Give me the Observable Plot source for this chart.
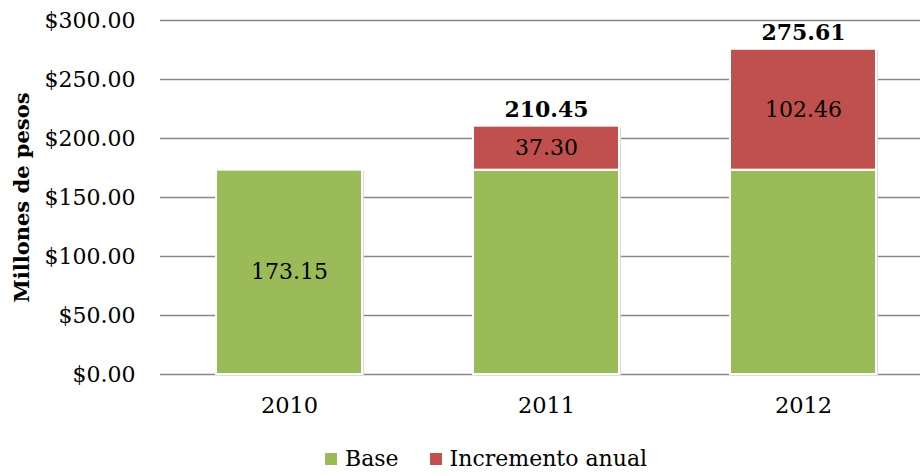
<!DOCTYPE html>
<html>
<head>
<meta charset="utf-8">
<script src="https://cdn.jsdelivr.net/npm/d3@7"></script>
<script src="https://cdn.jsdelivr.net/npm/@observablehq/plot@0.6"></script>
<style>
  body { margin: 0; background: #fff; font-family: "DejaVu Serif", serif; }
  #wrap { position: relative; width: 920px; height: 476px; overflow: hidden; }
  #legend { position: absolute; left: 325px; top: 446px; display: flex; align-items: center; font-size: 22px; color: #000; }
  .sw { display: inline-block; width: 12px; height: 12px; margin-right: 8px; }
  .item { display: flex; align-items: center; margin-right: 31px; }
</style>
</head>
<body>
<div id="wrap">
  <div id="chart"></div>
  <div id="legend"></div>
</div>
<script>
const years = ["2010", "2011", "2012"];
const base = [173.15, 173.15, 173.15];
const incremento = [0, 37.30, 102.46];
const seriesNames = ["Base", "Incremento anual"];
const seriesColors = ["#9BBB59", "#C0504D"];
const yTicks = [0, 50, 100, 150, 200, 250, 300];
const yLabel = "Millones de pesos";

const rows = [];
years.forEach((yr, i) => {
  rows.push({year: yr, series: seriesNames[0], value: base[i], inc: incremento[i]});
  rows.push({year: yr, series: seriesNames[1], value: incremento[i], inc: incremento[i]});
});
const totals = years.map((yr, i) => ({year: yr, total: base[i] + incremento[i], inc: incremento[i]}))
  .filter(d => d.inc > 0);
// segment labels shown in the reference: base only where there is no increment
const labelled = d => d.series === seriesNames[1] || d.inc === 0;
const barRows = rows.filter(d => d.value > 0);

const chart = Plot.plot({
  width: 920,
  height: 430,
  marginTop: 20,
  marginBottom: 56,
  marginLeft: 160,
  marginRight: 0,
  style: {fontFamily: "DejaVu Serif, serif", fontSize: "22px", color: "#000", background: "transparent"},
  x: {domain: years, range: [160, 932], paddingInner: 0.43, paddingOuter: 0.215, label: null},
  y: {domain: [0, 300], label: null},
  color: {domain: seriesNames, range: seriesColors},
  marks: [
    Plot.ruleY(yTicks, {stroke: "#878787", strokeWidth: 1.6}),
    Plot.barY(barRows, Plot.stackY({x: "year", y: "value", z: "series", order: seriesNames, fill: "#d9d9d9", dx: 2, dy: 1.5})),
    Plot.barY(barRows, Plot.stackY({x: "year", y: "value", z: "series", order: seriesNames, fill: "series", stroke: "#fff", strokeWidth: 2})),
    Plot.textY(barRows, Plot.stackY({x: "year", y: "value", z: "series", order: seriesNames, text: d => labelled(d) ? d.value.toFixed(2) : "", fill: "#000", fontSize: 22})),
    Plot.text(totals, {x: "year", y: "total", text: d => d.total.toFixed(2), fontWeight: "bold", fontSize: 22, lineAnchor: "bottom", dy: -9, fill: "#000"}),
    Plot.axisY({ticks: yTicks, tickFormat: d => "$" + d.toFixed(2), tickSize: 0, tickPadding: 25, label: null, fontSize: 22}),
    Plot.axisX({tickSize: 0, tickPadding: 23, label: null, fontSize: 22.5}),
    Plot.text([yLabel], {frameAnchor: "left", textAnchor: "middle", dx: -138, rotate: -90, fontWeight: "bold", fontSize: 21, fill: "#000"})
  ]
});
document.getElementById("chart").appendChild(chart);

const legend = document.getElementById("legend");
seriesNames.forEach((s, i) => {
  const item = document.createElement("div");
  item.className = "item";
  const sw = document.createElement("span");
  sw.className = "sw";
  sw.style.background = seriesColors[i];
  item.appendChild(sw);
  item.appendChild(document.createTextNode(s));
  legend.appendChild(item);
});
</script>
</body>
</html>
